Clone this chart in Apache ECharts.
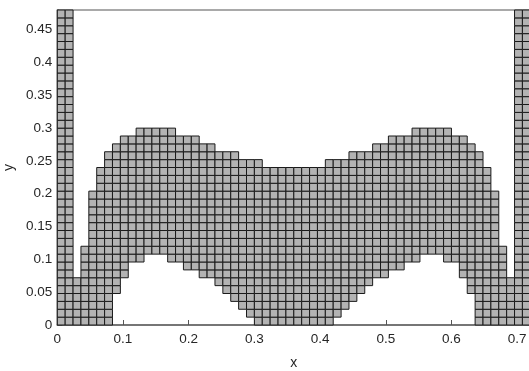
<!DOCTYPE html>
<html><head><meta charset="utf-8">
<script src="https://cdn.jsdelivr.net/npm/echarts@6/dist/echarts.min.js"></script>
<style>html,body{margin:0;padding:0;background:#fff}#c{width:529px;height:371px}</style>
</head><body><div id="c"></div>
<script>
// Mesh: 60 columns x 40 rows of square elements
const elementSize = 0.012;
const xTickLabels = ['0','0.1','0.2','0.3','0.4','0.5','0.6','0.7'];
const yTickLabels = ['0','0.05','0.1','0.15','0.2','0.25','0.3','0.35','0.4','0.45'];
// first filled row index per column
const colStart = [0,0,0,0,0,0,0,4,6,8, 8,9,9,9,8,8,7,7,6,6, 5,4,3,2,1,0,0,0,0,0,
                  0,0,0,0,0,1,2,3,4,5, 6,6,7,7,8,8,9,9,9,8, 8,6,4,0,0,0,0,0,0,0];
// number of rows from the bottom up to the top filled element (exclusive top index)
const colEnd   = [40,40,6,10,17,20,22,23,24,24, 25,25,25,25,25,24,24,24,23,23, 22,22,22,21,21,21,20,20,20,20,
                  20,20,20,20,21,21,21,22,22,22, 23,23,24,24,24,25,25,25,25,25, 24,24,23,22,20,17,10,6,40,40];

const cells = [];
for (let c = 0; c < colStart.length; c++) {
  for (let r = colStart[c]; r < colEnd[c]; r++) {
    cells.push([c * elementSize, r * elementSize]);
  }
}

const font = 'Liberation Sans, Arial, Helvetica, sans-serif';
const txt = '#262626';
const chart = echarts.init(document.getElementById('c'), null, {renderer: 'canvas'});
chart.setOption({
  animation: false,
  backgroundColor: '#fff',
  grid: {left: 57.3, top: 10, width: 473, height: 315, containLabel: false, outerBoundsMode: 'none',
         show: true, borderColor: '#555', borderWidth: 1.2, backgroundColor: 'transparent'},
  xAxis: {
    type: 'value', min: 0, max: 0.72, interval: 0.1,
    name: 'x', nameLocation: 'middle', nameGap: 31, nameMoveOverlap: false,
    nameTextStyle: {fontFamily: font, fontSize: 14, color: txt},
    axisLine: {show: true, lineStyle: {color: '#666', width: 1.5}},
    axisTick: {show: true, inside: true, length: 5, lineStyle: {color: '#555'}},
    axisLabel: {fontFamily: font, fontSize: 13.5, color: txt, margin: 7, showMaxLabel: false,
      formatter: function (v) { const i = Math.round(v * 10); return xTickLabels[i] !== undefined && Math.abs(v - i / 10) < 1e-9 ? xTickLabels[i] : ''; }},
    splitLine: {show: false}
  },
  yAxis: {
    type: 'value', min: 0, max: 0.48, interval: 0.05,
    name: 'y', nameLocation: 'middle', nameGap: 41, nameMoveOverlap: false,
    nameTextStyle: {fontFamily: font, fontSize: 14, color: txt},
    axisLine: {show: true, lineStyle: {color: '#666', width: 1.5}},
    axisTick: {show: true, inside: true, length: 5, lineStyle: {color: '#555'}},
    axisLabel: {fontFamily: font, fontSize: 13.5, color: txt, margin: 5, showMaxLabel: false,
      formatter: function (v) { const i = Math.round(v * 20); return yTickLabels[i] !== undefined && Math.abs(v - i / 20) < 1e-9 ? yTickLabels[i] : ''; }},
    splitLine: {show: false}
  },
  series: [{
    type: 'custom',
    data: cells,
    encode: {x: 0, y: 1},
    renderItem: function (params, api) {
      const x = api.value(0), y = api.value(1);
      const p0 = api.coord([x, y + elementSize]);
      const p1 = api.coord([x + elementSize, y]);
      return {
        type: 'rect',
        shape: {x: p0[0], y: p0[1], width: p1[0] - p0[0], height: p1[1] - p0[1]},
        style: {fill: '#b3b3b3', stroke: '#1a1a1a', lineWidth: 1}
      };
    }
  }]
});
</script></body></html>
